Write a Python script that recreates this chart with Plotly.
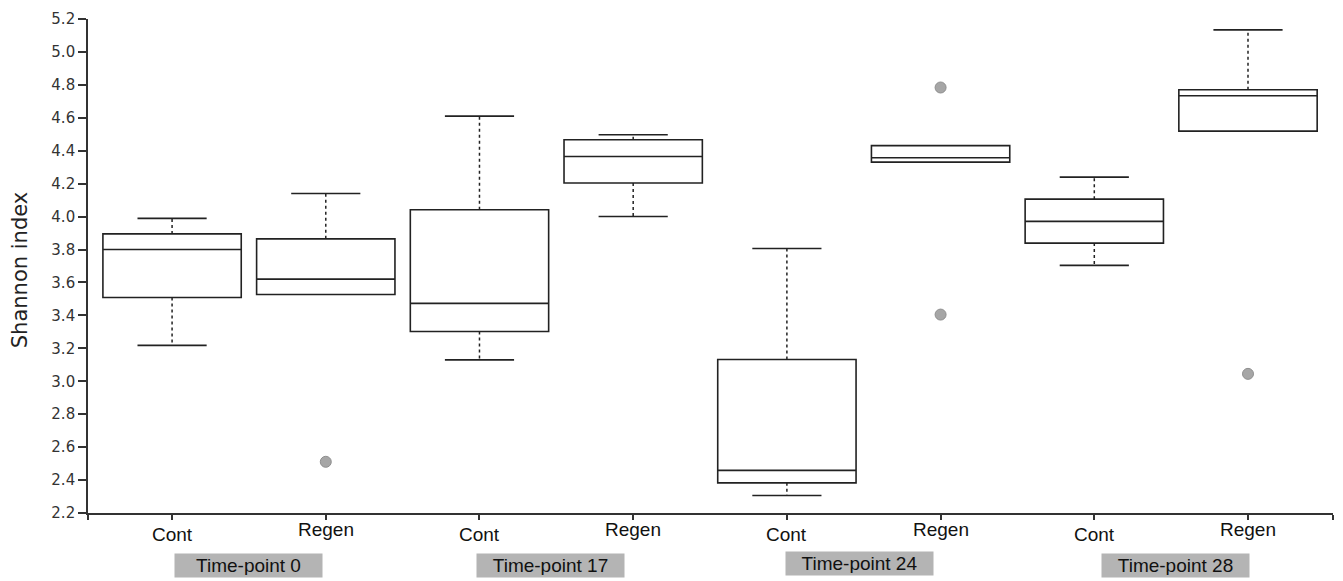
import plotly.graph_objects as go

# ---- data ----
categories = ["Cont", "Regen", "Cont", "Regen", "Cont", "Regen", "Cont", "Regen"]
positions = [0, 1, 2, 3, 4, 5, 6, 7]
q1 =      [3.509, 3.527, 3.302, 4.204, 2.383, 4.331, 3.839, 4.519]
median =  [3.800, 3.620, 3.473, 4.365, 2.459, 4.357, 3.971, 4.734]
q3 =      [3.895, 3.865, 4.042, 4.467, 3.132, 4.431, 4.106, 4.770]
lower_w = [3.218, 3.527, 3.130, 4.001, 2.306, 4.331, 3.704, 4.519]
upper_w = [3.989, 4.140, 4.610, 4.497, 3.806, 4.431, 4.240, 5.134]
outlier_x = [1, 5, 5, 7]
outlier_y = [2.511, 4.784, 3.405, 3.045]
timepoints = ["Time-point 0", "Time-point 17", "Time-point 24", "Time-point 28"]
timepoint_pos = [0.5, 2.46, 4.47, 6.53]
y_ticks = [2.2, 2.4, 2.6, 2.8, 3.0, 3.2, 3.4, 3.6, 3.8, 4.0, 4.2, 4.4, 4.6, 4.8, 5.0, 5.2]

BOX_W = 0.9
CAP_HALF = BOX_W / 4
LINE = "#222222"

fig = go.Figure()

# boxes (whiskers drawn separately so they can be dotted)
fig.add_trace(go.Box(
    x=positions, q1=q1, median=median, q3=q3,
    lowerfence=q1, upperfence=q3,
    width=BOX_W, fillcolor="white",
    line=dict(color=LINE, width=1.6),
    whiskerwidth=0, boxpoints=False, showlegend=False, hoverinfo="skip",
))

# whisker stems (dotted)
sx, sy = [], []
for p, a, b, lo, hi in zip(positions, q1, q3, lower_w, upper_w):
    if hi > b:
        sx += [p, p, None]; sy += [b, hi, None]
    if lo < a:
        sx += [p, p, None]; sy += [a, lo, None]
fig.add_trace(go.Scatter(x=sx, y=sy, mode="lines",
                         line=dict(color=LINE, width=1.5, dash="dot"),
                         showlegend=False, hoverinfo="skip"))

# whisker caps (solid)
cx, cy = [], []
for p, a, b, lo, hi in zip(positions, q1, q3, lower_w, upper_w):
    if hi > b:
        cx += [p - CAP_HALF, p + CAP_HALF, None]; cy += [hi, hi, None]
    if lo < a:
        cx += [p - CAP_HALF, p + CAP_HALF, None]; cy += [lo, lo, None]
fig.add_trace(go.Scatter(x=cx, y=cy, mode="lines",
                         line=dict(color=LINE, width=1.6),
                         showlegend=False, hoverinfo="skip"))

# outliers
fig.add_trace(go.Scatter(x=outlier_x, y=outlier_y, mode="markers",
                         marker=dict(size=11, color="#a6a6a6",
                                     line=dict(color="#8f8f8f", width=1)),
                         showlegend=False, hoverinfo="skip"))

annotations = []
# category labels
for p, c in zip(positions, categories):
    yy = -0.044 if c == "Cont" else -0.034
    annotations.append(dict(x=p, y=yy, xref="x", yref="paper", text=c,
                            showarrow=False, yanchor="middle",
                            font=dict(family="Liberation Sans, Arial", size=19, color="#111")))
# time-point grey labels
for p, t in zip(timepoint_pos, timepoints):
    yy = -0.103 if t.endswith("24") else -0.107
    annotations.append(dict(x=p, y=yy, xref="x", yref="paper", text=t,
                            showarrow=False, yanchor="middle",
                            bgcolor="#b4b4b4", width=143, height=19, borderpad=2,
                            font=dict(family="Liberation Sans, Arial", size=19, color="#111")))
# y-axis title
annotations.append(dict(x=-0.054, y=0.491, xref="paper", yref="paper",
                        xanchor="center", yanchor="middle",
                        text="Shannon index", textangle=-90, showarrow=False,
                        font=dict(family="DejaVu Sans", size=21, color="#222")))

x_lo, x_hi = -0.547, 7.553
fig.update_layout(
    width=1343, height=581,
    margin=dict(l=88, r=10, t=15, b=68),
    paper_bgcolor="white", plot_bgcolor="white",
    annotations=annotations,
    xaxis=dict(range=[x_lo, x_hi], tickvals=[x_lo] + positions + [x_hi],
               ticktext=[""] * (len(positions) + 2),
               ticks="outside", ticklen=5, tickwidth=1.5, tickcolor="#333",
               showline=True, linecolor="#333", linewidth=1.6,
               showgrid=False, zeroline=False),
    yaxis=dict(range=[2.2, 5.2], tickvals=y_ticks,
               ticktext=[f"{v:.1f}" for v in y_ticks],
               ticks="outside", ticklen=8, tickwidth=1.5, tickcolor="#333",
               showline=True, linecolor="#333", linewidth=1.6,
               showgrid=False, zeroline=False,
               tickfont=dict(family="DejaVu Sans", size=15, color="#333")),
)

fig.write_html("out.html", config={"displayModeBar": False},
               post_script="document.body.style.margin='0';document.body.style.overflow='hidden';")
